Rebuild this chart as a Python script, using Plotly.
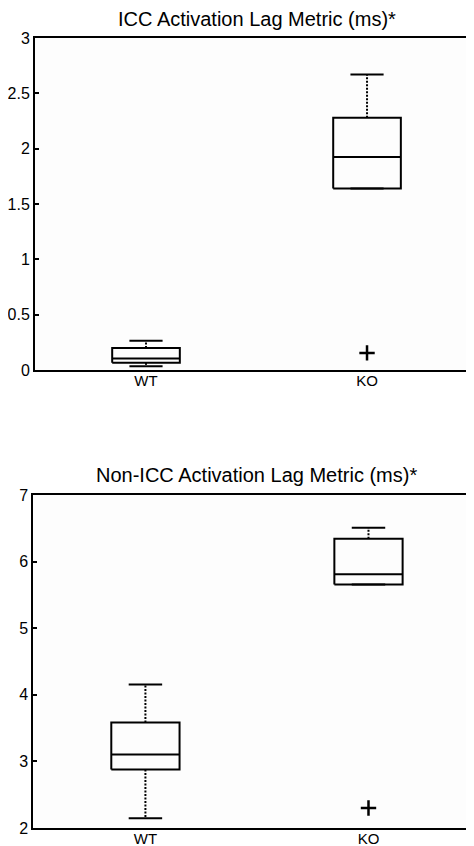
import plotly.graph_objects as go

# ---------------- data ----------------
categories = ["WT", "KO"]
positions = [1, 2]

icc_title = "ICC Activation Lag Metric (ms)*"
icc_q1 = [0.065, 1.64]
icc_median = [0.105, 1.925]
icc_q3 = [0.20, 2.28]
icc_lower = [0.035, 1.64]
icc_upper = [0.265, 2.67]
icc_outliers = [[], [0.155]]
icc_ticks = [0, 0.5, 1, 1.5, 2, 2.5, 3]
icc_ticktext = ["0", "0.5", "1", "1.5", "2", "2.5", "3"]

non_title = "Non-ICC Activation Lag Metric (ms)*"
non_q1 = [2.88, 5.655]
non_median = [3.105, 5.81]
non_q3 = [3.585, 6.345]
non_lower = [2.145, 5.655]
non_upper = [4.155, 6.51]
non_outliers = [[], [2.30]]
non_ticks = [2, 3, 4, 5, 6, 7]
non_ticktext = ["2", "3", "4", "5", "6", "7"]

# ---------------- styles ----------------
BOX_HALF = 0.153
CAP_HALF = 0.075
LW = 2
FONT = "Liberation Sans, Arial, sans-serif"

fig = go.Figure()


def add_boxes(q1, med, q3, lo, hi, outl, xa, ya):
    for i, c in enumerate(positions):
        # box
        fig.add_trace(go.Scatter(
            x=[c - BOX_HALF, c + BOX_HALF, c + BOX_HALF, c - BOX_HALF, c - BOX_HALF],
            y=[q1[i], q1[i], q3[i], q3[i], q1[i]],
            mode="lines", line=dict(color="black", width=LW),
            xaxis=xa, yaxis=ya, hoverinfo="skip"))
        # median
        fig.add_trace(go.Scatter(
            x=[c - BOX_HALF, c + BOX_HALF], y=[med[i], med[i]],
            mode="lines", line=dict(color="black", width=LW),
            xaxis=xa, yaxis=ya, hoverinfo="skip"))
        # whiskers (dotted)
        for a, b in ((q3[i], hi[i]), (q1[i], lo[i])):
            if a != b:
                fig.add_trace(go.Scatter(
                    x=[c, c], y=[a, b], mode="lines",
                    line=dict(color="black", width=LW, dash="2px,1.5px"),
                    xaxis=xa, yaxis=ya, hoverinfo="skip"))
        # caps
        for v in (hi[i], lo[i]):
            fig.add_trace(go.Scatter(
                x=[c - CAP_HALF, c + CAP_HALF], y=[v, v], mode="lines",
                line=dict(color="black", width=LW),
                xaxis=xa, yaxis=ya, hoverinfo="skip"))
        # outliers
        if outl[i]:
            fig.add_trace(go.Scatter(
                x=[c] * len(outl[i]), y=outl[i], mode="markers",
                marker=dict(symbol="cross-thin", size=11,
                            line=dict(color="black", width=2.5)),
                xaxis=xa, yaxis=ya, hoverinfo="skip"))


add_boxes(icc_q1, icc_median, icc_q3, icc_lower, icc_upper, icc_outliers, "x", "y")
add_boxes(non_q1, non_median, non_q3, non_lower, non_upper, non_outliers, "x2", "y2")

# invisible trace to keep the right-side tick axis alive
fig.add_trace(go.Scatter(x=[None], y=[None], xaxis="x", yaxis="y3",
                         mode="markers", showlegend=False, hoverinfo="skip"))

axis_common = dict(showgrid=False, zeroline=False, showline=True,
                   linecolor="black", linewidth=LW, automargin=False)

# page body has an 8px margin, so the figure is 8px smaller than the window
fig.update_layout(
    width=466, height=838,
    margin=dict(l=25, r=0, t=30, b=18),
    paper_bgcolor="white", plot_bgcolor="#fdfdfd",
    showlegend=False,
    font=dict(family=FONT, color="black", size=16),
    xaxis=dict(domain=[0.0045, 1], range=[0.4977, 2.484], anchor="y",
               tickvals=positions, ticktext=categories, ticks="",
               mirror=True, tickfont=dict(size=15), ticklabelstandoff=-4,
               **axis_common),
    yaxis=dict(domain=[0.5797, 1], range=[0, 3], anchor="x",
               tickvals=icc_ticks, ticktext=icc_ticktext,
               ticks="inside", ticklen=4, tickwidth=2, tickcolor="black",
               tickfont=dict(size=16), **axis_common),
    yaxis3=dict(overlaying="y", anchor="x", side="right", range=[0, 3],
                tickvals=icc_ticks[1:-1], ticks="inside", ticklen=2,
                tickwidth=2, tickcolor="#444", showticklabels=False,
                showgrid=False, zeroline=False, showline=False,
                automargin=False),
    xaxis2=dict(domain=[0.001, 1], range=[0.498, 2.473], anchor="y2",
                tickvals=positions, ticktext=categories, ticks="",
                mirror=True, tickfont=dict(size=15), ticklabelstandoff=-4,
                **axis_common),
    yaxis2=dict(domain=[0, 0.4215], range=[2, 7], anchor="x2",
                tickvals=non_ticks, ticktext=non_ticktext,
                ticks="inside", ticklen=4, tickwidth=2, tickcolor="black",
                tickfont=dict(size=16), **axis_common),
    annotations=[
        dict(text=icc_title, xref="paper", yref="paper",
             x=(257 - 33) / 441, y=(828 - 19) / 790,
             xanchor="center", yanchor="middle", showarrow=False,
             font=dict(size=20, family=FONT, color="black")),
        dict(text=non_title, xref="paper", yref="paper",
             x=(256 - 33) / 441, y=(828 - 475) / 790,
             xanchor="center", yanchor="middle", showarrow=False,
             font=dict(size=20, family=FONT, color="black")),
    ],
)

fig.write_html("out.html")
